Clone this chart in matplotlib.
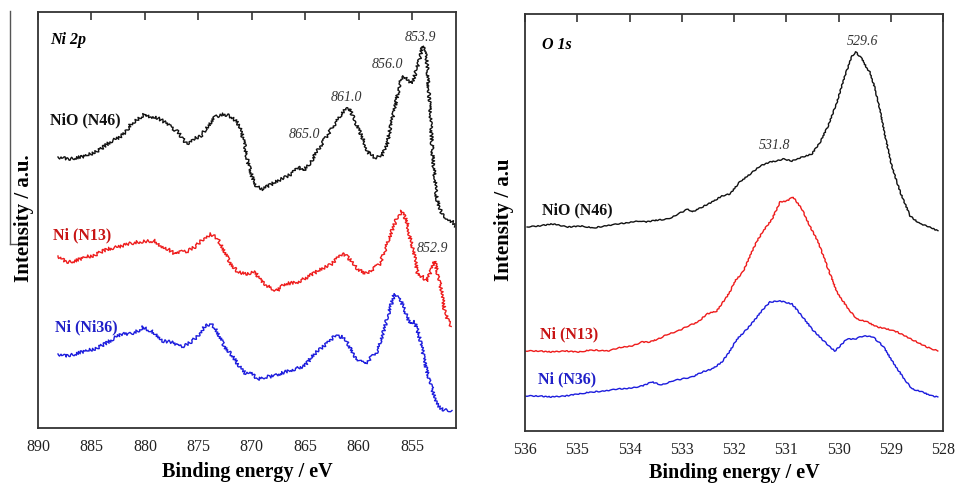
import matplotlib
matplotlib.use("Agg")
import matplotlib.pyplot as plt
from matplotlib.lines import Line2D

plt.rcParams["font.family"] = ["Liberation Serif", "DejaVu Serif"]

# ---- Ni 2p panel (binding energy in eV, intensity in a.u.) ----
ni_nio_e = [888.13, 887.20, 885.98, 885.05, 884.11, 883.27, 882.34, 881.78, 881.31, 880.65,
            880.00, 879.44, 878.97, 878.32, 877.57, 876.92, 876.45, 876.07, 875.51, 874.77,
            874.11, 873.46, 872.71, 872.06, 871.50, 871.12, 870.65, 870.37, 870.00, 869.53,
            868.97, 868.13, 867.20, 866.26, 865.70, 865.23, 864.58, 863.93, 863.18, 862.43,
            861.78, 861.31, 860.84, 860.37, 859.72, 859.16, 858.50, 857.85, 857.38, 856.92,
            856.45, 855.98, 855.70, 855.05, 854.77, 854.30, 854.02, 853.64, 853.36, 853.08,
            852.71, 852.24, 851.68, 851.21, 850.93]
ni_nio_i = [271, 269, 271, 274, 279, 286, 291, 296, 304, 309,
            314, 311, 311, 307, 301, 296, 289, 284, 289, 292,
            302, 311, 314, 312, 307, 302, 282, 266, 252, 241,
            239, 244, 249, 254, 261, 257, 264, 276, 289, 301,
            311, 319, 319, 307, 292, 276, 270, 272, 282, 306,
            329, 351, 351, 344, 352, 369, 382, 369, 322, 272,
            229, 214, 209, 206, 202]

ni_n13_e = [888.13, 887.38, 886.54, 885.61, 884.86, 884.11, 883.46, 882.52, 881.59, 880.65,
            879.72, 879.07, 878.50, 877.85, 877.20, 876.64, 875.98, 875.33, 874.77, 874.30,
            873.83, 873.36, 872.90, 872.43, 871.96, 871.31, 870.65, 869.72, 869.07, 868.50,
            867.66, 866.92, 865.70, 864.77, 863.83, 862.52, 861.59, 861.12, 860.65, 860.09,
            859.44, 858.69, 858.04, 857.57, 856.92, 856.45, 855.98, 855.51, 855.23, 854.77,
            854.49, 854.02, 853.64, 853.36, 852.90, 852.62, 852.24, 851.96, 851.50, 851.31]
ni_n13_i = [172, 166, 167, 171, 172, 176, 179, 181, 184, 186,
            187, 187, 182, 179, 174, 176, 177, 181, 187, 191,
            194, 191, 184, 174, 164, 156, 154, 156, 146, 142,
            137, 144, 146, 151, 157, 164, 174, 172, 166, 159,
            154, 159, 164, 177, 197, 209, 217, 207, 191, 171,
            154, 151, 146, 154, 167, 154, 137, 116, 104, 102]

ni_n36_e = [888.13, 887.48, 886.54, 885.61, 884.67, 883.74, 882.99, 882.24, 881.40, 880.65,
            880.19, 879.44, 878.97, 878.32, 877.57, 876.92, 876.26, 875.70, 875.05, 874.39,
            873.93, 873.46, 872.99, 872.52, 871.96, 871.31, 870.65, 870.00, 869.44, 868.79,
            867.85, 866.92, 865.98, 865.05, 864.39, 863.83, 862.99, 862.24, 861.59, 861.12,
            860.56, 859.91, 859.44, 858.79, 858.22, 857.76, 857.29, 856.82, 856.64, 856.17,
            855.70, 855.23, 854.77, 854.49, 854.11, 853.64, 853.18, 852.71, 852.24, 851.68,
            851.31]
ni_n36_i = [74, 72, 74, 77, 79, 84, 89, 94, 94, 97,
            101, 97, 94, 87, 86, 82, 82, 86, 92, 102,
            104, 101, 91, 81, 74, 64, 55, 54, 49, 51,
            52, 56, 59, 62, 71, 77, 84, 92, 91, 87,
            74, 67, 64, 71, 77, 94, 111, 129, 134, 131,
            117, 104, 106, 97, 81, 57, 41, 24, 19, 17,
            16]

# ---- O 1s panel ----
o_nio_e = [535.96, 535.75, 535.48, 535.18, 534.91, 534.70, 534.47, 534.22, 533.95, 533.80,
           533.70, 533.45, 533.26, 533.07, 532.88, 532.80, 532.61, 532.42, 532.23, 532.08,
           531.89, 531.69, 531.50, 531.31, 531.18, 531.06, 530.89, 530.74, 530.51, 530.35,
           530.20, 530.03, 529.88, 529.74, 529.67, 529.55, 529.45, 529.40, 529.30, 529.21,
           529.11, 528.98, 528.82, 528.63, 528.44, 528.25, 528.10]
o_nio_i = [204, 205, 207, 204, 205, 203, 205, 207, 209, 210,
           209, 211, 212, 217, 222, 219, 224, 229, 235, 237,
           249, 257, 265, 269, 270, 272, 270, 273, 277, 289,
           305, 329, 355, 375, 379, 372, 362, 359, 342, 322,
           295, 265, 239, 215, 207, 204, 200]

o_n13_e = [536.00, 535.75, 535.48, 535.23, 534.99, 534.72, 534.41, 534.14, 533.95, 533.76,
           533.61, 533.45, 533.26, 533.07, 532.88, 532.69, 532.52, 532.33, 532.17, 532.08,
           531.98, 531.83, 531.66, 531.56, 531.44, 531.27, 531.12, 530.99, 530.87, 530.70,
           530.55, 530.39, 530.22, 530.03, 529.84, 529.65, 529.45, 529.26, 529.07, 528.88,
           528.69, 528.50, 528.31, 528.10]
o_n13_i = [80, 80, 79, 80, 79, 81, 80, 84, 85, 89,
           89, 92, 97, 100, 105, 109, 117, 120, 132, 139,
           150, 159, 179, 190, 200, 212, 229, 230, 234, 222,
           205, 189, 165, 139, 124, 112, 109, 104, 102, 99,
           94, 89, 84, 80]

o_n36_e = [536.00, 535.75, 535.48, 535.23, 534.99, 534.72, 534.47, 534.22, 533.95, 533.76,
           533.57, 533.38, 533.19, 533.00, 532.80, 532.61, 532.42, 532.23, 532.08, 531.94,
           531.75, 531.56, 531.44, 531.31, 531.12, 530.89, 530.70, 530.51, 530.32, 530.16,
           530.07, 529.97, 529.84, 529.68, 529.53, 529.34, 529.15, 528.96, 528.77, 528.59,
           528.40, 528.21, 528.10]
o_n36_i = [35, 35, 34, 35, 37, 39, 40, 42, 43, 45,
           49, 46, 50, 52, 54, 59, 62, 69, 80, 92,
           102, 114, 122, 129, 130, 127, 115, 102, 92, 84,
           80, 85, 92, 92, 95, 94, 85, 69, 54, 42,
           39, 35, 34]

ni_ticks = [890, 885, 880, 875, 870, 865, 860, 855]
o_ticks = [536, 535, 534, 533, 532, 531, 530, 529, 528]

ni_peaks = [("853.9", 854.21, 391), ("856.0", 857.29, 364), ("861.0", 861.12, 331),
            ("865.0", 865.05, 294), ("852.9", 853.08, 180)]
o_peaks = [("531.8", 531.23, 286), ("529.6", 529.55, 390)]

BLACK = "#111111"
RED = "#ee1c1c"
BLUE = "#1c1cdd"
RED_TXT = "#c81414"
BLUE_TXT = "#2020c8"


def style_axes(ax, ticks, xlim, ylim, labelpad):
    ax.set_xlim(*xlim)
    ax.set_ylim(*ylim)
    ax.set_xticks(ticks)
    ax.set_xticklabels([str(t) for t in ticks])
    ax.set_yticks([])
    ax.tick_params(axis="x", bottom=False, top=True, direction="in", length=6,
                   width=1.2, color="#333333", labelsize=11.5, pad=7.5, labelcolor="#222222")
    for sp in ax.spines.values():
        sp.set_linewidth(1.3)
        sp.set_color("#333333")
    ax.set_xlabel("Binding energy / eV", fontsize=14.5, fontweight="bold", labelpad=labelpad)


def spectrum(ax, e, i, color, noisy):
    line, = ax.plot(e, i, color=color, lw=1.0)
    # measured spectra carry counting noise; drawn as a fine sketch on the line
    if noisy:
        line.set_sketch_params(scale=1.6, length=3.0, randomness=3.0)
    else:
        line.set_sketch_params(scale=0.5, length=6.0, randomness=3.0)


fig = plt.figure(figsize=(9.57, 4.85), dpi=100)
ax1 = fig.add_axes([0.0397, 0.1155, 0.4368, 0.8577])
ax2 = fig.add_axes([0.5486, 0.1093, 0.4368, 0.8598])

# Ni 2p
spectrum(ax1, ni_nio_e, ni_nio_i, BLACK, True)
spectrum(ax1, ni_n13_e, ni_n13_i, RED, True)
spectrum(ax1, ni_n36_e, ni_n36_i, BLUE, True)
style_axes(ax1, ni_ticks, (890, 850.9), (0, 416), 5)
ax1.text(0.029, 0.935, "Ni 2p", transform=ax1.transAxes, fontsize=11.5,
         fontweight="bold", fontstyle="italic", va="center")
ax1.text(0.029, 0.743, "NiO (N46)", transform=ax1.transAxes, fontsize=11.5,
         fontweight="bold", color=BLACK, va="center")
ax1.text(0.036, 0.466, "Ni (N13)", transform=ax1.transAxes, fontsize=11.5,
         fontweight="bold", color=RED_TXT, va="center")
ax1.text(0.041, 0.245, "Ni (Ni36)", transform=ax1.transAxes, fontsize=11.5,
         fontweight="bold", color=BLUE_TXT, va="center")
for lab, e, i in ni_peaks:
    ax1.text(e, i, lab, fontsize=10, fontstyle="italic", color="#333333",
             ha="center", va="center")

# O 1s
spectrum(ax2, o_nio_e, o_nio_i, BLACK, False)
spectrum(ax2, o_n13_e, o_n13_i, RED, False)
spectrum(ax2, o_n36_e, o_n36_i, BLUE, False)
style_axes(ax2, o_ticks, (536, 528), (0, 417), 3)
ax2.text(0.041, 0.928, "O 1s", transform=ax2.transAxes, fontsize=11.5,
         fontweight="bold", fontstyle="italic", va="center")
ax2.text(0.041, 0.532, "NiO (N46)", transform=ax2.transAxes, fontsize=11.5,
         fontweight="bold", color=BLACK, va="center")
ax2.text(0.036, 0.235, "Ni (N13)", transform=ax2.transAxes, fontsize=11.5,
         fontweight="bold", color=RED_TXT, va="center")
ax2.text(0.031, 0.125, "Ni (N36)", transform=ax2.transAxes, fontsize=11.5,
         fontweight="bold", color=BLUE_TXT, va="center")
for lab, e, i in o_peaks:
    ax2.text(e, i, lab, fontsize=10, fontstyle="italic", color="#333333",
             ha="center", va="center")

fig.text(0.025, 0.5505, "Intensity / a.u.", rotation=90, fontsize=15,
         fontweight="bold", ha="center", va="center")
fig.text(0.5266, 0.546, "Intensity / a.u", rotation=90, fontsize=15,
         fontweight="bold", ha="center", va="center")

# thin cropping line at the far left of the original figure
fig.add_artist(Line2D([0.0105, 0.0105], [1 - 12 / 485, 1 - 245 / 485],
                      color="#555555", lw=1.0, transform=fig.transFigure))
fig.add_artist(Line2D([0.0105, 0.021], [1 - 245 / 485, 1 - 245 / 485],
                      color="#555555", lw=1.0, transform=fig.transFigure))

fig.savefig("out.png", dpi=100)
